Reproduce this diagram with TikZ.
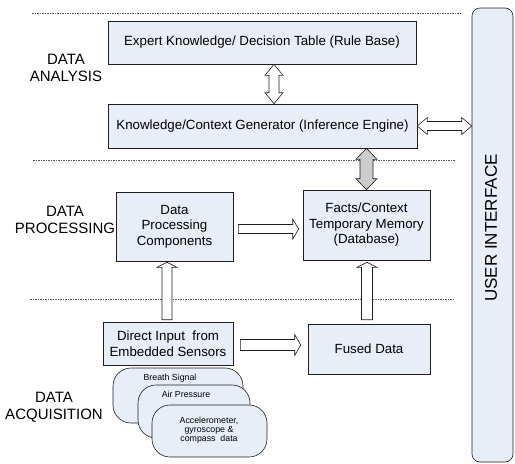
\documentclass[tikz,border=0pt]{standalone}
\usepackage{fontspec}
\setmainfont{Liberation Sans}
\usetikzlibrary{calc}
\definecolor{boxfill}{RGB}{232,238,248}
\definecolor{edge}{RGB}{30,30,30}
\begin{document}
\begin{tikzpicture}[x=1pt,y=-1pt,
  box/.style={draw=edge, line width=0.6pt, fill=boxfill, inner sep=0pt, align=center, font=\fontsize{13.3}{15.5}\selectfont},
  rbox/.style={draw=edge, line width=0.6pt, fill=boxfill, rounded corners=18pt, inner sep=0pt},
  small/.style={font=\fontsize{8.8}{9.2}\selectfont, align=center, inner sep=0pt},
  lab/.style={font=\fontsize{15}{17}\selectfont, align=center, inner sep=0pt},
  blk/.style={draw=edge, line width=0.6pt, fill=white, line join=miter},
  sep/.style={draw=black!65, line width=0.45pt, dash pattern=on 1.5pt off 1pt}]
\useasboundingbox (0,0) rectangle (515,464);
% separators
\draw[sep] (32,13) -- (460,13);
\draw[sep] (33,160) -- (455,160);
\draw[sep] (30,299) -- (455,299);
% boxes
\node[box, minimum width=308, minimum height=43] (exp) at (262,42.5) {Expert Knowledge/ Decision Table (Rule Base)};
\node[box, minimum width=309, minimum height=44] (kn) at (262.5,126) {Knowledge/Context Generator (Inference Engine)};
\node[box, minimum width=117, minimum height=69] (dp) at (174.5,226.5) {Data\\Processing\\Components};
\node[box, minimum width=127, minimum height=70] (facts) at (366.5,225) {Facts/Context\\Temporary Memory\\(Database)};
\node[box, minimum width=130, minimum height=43] (direct) at (168,343.5) {Direct Input\ \ from\\Embedded Sensors};
\node[box, minimum width=122, minimum height=50] (fused) at (369,349) {Fused Data};
\node[rbox, minimum width=130, minimum height=55] (breath) at (178,395.5) {};
\node[small] (breatht) at (170,378) {Breath Signal};
\node[rbox, minimum width=112, minimum height=53] (air) at (194,411.5) {};
\node[small] (airt) at (186,394) {Air Pressure};
\node[rbox, minimum width=115, minimum height=52] (accel) at (209.5,431) {};
\node[small] (accelt) at (209,430) {Accelerometer,\\gyroscope \&\\compass\ \ data};
\node[rbox, rounded corners=8pt, minimum width=41, minimum height=454] (ui) at (492.5,235) {};
\node[rotate=90, inner sep=0pt, font=\fontsize{17}{19}\selectfont] (uit) at (491,228) {USER INTERFACE};
% labels
\node[lab] (la) at (66,68) {DATA\\ANALYSIS};
\node[lab] (lp) at (65,220) {DATA\\PROCESSING};
\node[lab] (lq) at (54,407) {DATA\\ACQUISITION};
% arrows
\draw[blk] let \p1=([xshift=12pt]exp.south), \p2=([xshift=12pt]kn.north) in
  (\x1,\y1) -- (\x1+9pt,\y1-11pt) -- (\x1+5pt,\y1-11pt) -- (\x1+5pt,\y2+11pt) -- (\x1+9pt,\y2+11pt) -- (\x1,\y2)
  -- (\x1-9pt,\y2+11pt) -- (\x1-5pt,\y2+11pt) -- (\x1-5pt,\y1-11pt) -- (\x1-9pt,\y1-11pt) -- cycle;
\draw[blk] let \p1=(kn.east), \p2=(kn.east -| ui.west) in
  (\x1,\y1) -- (\x1+10pt,\y1+8.5pt) -- (\x1+10pt,\y1+4.5pt) -- (\x2-10pt,\y1+4.5pt) -- (\x2-10pt,\y1+8.5pt) -- (\x2,\y1)
  -- (\x2-10pt,\y1-8.5pt) -- (\x2-10pt,\y1-4.5pt) -- (\x1+10pt,\y1-4.5pt) -- (\x1+10pt,\y1-8.5pt) -- cycle;
\draw[blk, fill=black!20] let \p1=(facts.north |- kn.south), \p2=(facts.north) in
  (\x1,\y1) -- (\x1+10.5pt,\y1-11pt) -- (\x1+6.5pt,\y1-11pt) -- (\x1+6.5pt,\y2+11pt) -- (\x1+10.5pt,\y2+11pt) -- (\x1,\y2)
  -- (\x1-10.5pt,\y2+11pt) -- (\x1-6.5pt,\y2+11pt) -- (\x1-6.5pt,\y1-11pt) -- (\x1-10.5pt,\y1-11pt) -- cycle;
\draw[blk] let \p1=([xshift=5pt,yshift=-2.5pt]dp.east), \p2=([xshift=-4pt]facts.west) in
  (\x1,\y1+4.5pt) -- (\x2-6pt,\y1+4.5pt) -- (\x2-6pt,\y1+10pt) -- (\x2,\y1) -- (\x2-6pt,\y1-10pt) -- (\x2-6pt,\y1-4.5pt) -- (\x1,\y1-4.5pt) -- cycle;
\draw[blk] let \p1=([xshift=7pt,yshift=-1.5pt]direct.east), \p2=([xshift=-7pt]fused.west) in
  (\x1,\y1+5.5pt) -- (\x2-6pt,\y1+5.5pt) -- (\x2-6pt,\y1+10.5pt) -- (\x2,\y1) -- (\x2-6pt,\y1-10.5pt) -- (\x2-6pt,\y1-5.5pt) -- (\x1,\y1-5.5pt) -- cycle;
\draw[blk] let \p1=([xshift=-1pt,yshift=2pt]direct.north), \p2=([yshift=-1pt]dp.south) in
  (\x1-5pt,\y1) -- (\x1-5pt,\y2-5pt) -- (\x1-10pt,\y2-5pt) -- (\x1,\y2) -- (\x1+10pt,\y2-5pt) -- (\x1+5pt,\y2-5pt) -- (\x1+5pt,\y1) -- cycle;
\draw[blk] let \p1=([xshift=-2pt,yshift=4pt]fused.north), \p2=([yshift=-2pt]facts.south) in
  (\x1-5.5pt,\y1) -- (\x1-5.5pt,\y2-5pt) -- (\x1-10pt,\y2-5pt) -- (\x1,\y2) -- (\x1+10pt,\y2-5pt) -- (\x1+5.5pt,\y2-5pt) -- (\x1+5.5pt,\y1) -- cycle;
\end{tikzpicture}
\end{document}
